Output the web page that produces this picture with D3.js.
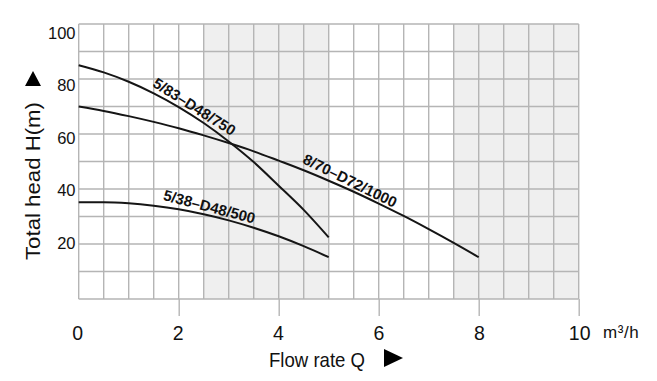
<!DOCTYPE html>
<html><head><meta charset="utf-8">
<script src="https://cdn.jsdelivr.net/npm/d3@7"></script>
<style>body{margin:0;background:#fff}svg{display:block}</style>
</head><body>
<svg id="chart" width="657" height="381"></svg>
<script>
// ---- data ----
const seriesNames = ["5/83–D48/750", "8/70–D72/1000", "5/38–D48/500"];
const flowA = [0,0.5,1,1.5,2,2.5,3,3.5,4,4.5,5];
const headA = [85,82.4,79.0,74.8,69.8,64.0,57.3,49.8,41.2,32.4,22.4];
const flowB = [0,0.5,1,1.5,2,2.5,3,3.5,4,4.5,5,5.5,6,6.5,7,7.5,8];
const headB = [70,68.4,66.5,64.4,62.1,59.5,56.7,53.7,50.3,46.8,43.0,39.0,34.7,30.2,25.4,20.4,15.2];
const flowC = [0,0.5,1,1.5,2,2.5,3,3.5,4,4.5,5];
const headC = [35.2,35.2,34.8,33.9,32.6,30.8,28.6,25.9,22.8,19.2,15.2];
const xTicks = [0,2,4,6,8,10];
const xTickMarks = [2,4,6,8,10];
const yTicks = [20,40,60,80,100];
const shadedBands = [[2.5,5],[7.5,10]];
const labelFlow = [2.22, 5.35, 2.57];

// ---- drawing ----
const svg = d3.select("#chart");
const font = "'Liberation Sans', Arial, Helvetica, sans-serif";
const x = d3.scaleLinear().domain([0,10]).range([78.7,578.7]);
const y = d3.scaleLinear().domain([0,100]).range([299,24]);
const xLab = d3.scaleLinear().domain([0,10]).range([77.2,579.2]);
const yLab = d3.scaleLinear().domain([0,100]).range([295.5,33]);
const gridColor = "#b5b5b5";

// shaded bands
svg.append("g").selectAll("rect").data(shadedBands).join("rect")
  .attr("x", d => x(d[0])).attr("y", y(100))
  .attr("width", d => x(d[1]) - x(d[0])).attr("height", y(0) - y(100))
  .attr("fill", "#efefef");

// grid
const grid = svg.append("g").attr("stroke", gridColor).attr("stroke-width", 1.4);
grid.selectAll(".v").data(d3.range(0, 10.01, 0.5)).join("line")
  .attr("x1", d => x(d)).attr("x2", d => x(d)).attr("y1", y(100)).attr("y2", y(0));
grid.selectAll(".h").data(d3.range(0, 100.1, 10)).join("line")
  .attr("x1", x(0)).attr("x2", x(10)).attr("y1", d => y(d)).attr("y2", d => y(d));

// tick marks below axis
const xAxisTicks = svg.append("g").attr("transform", `translate(0,${y(0)})`)
  .call(d3.axisBottom(x).tickValues(xTickMarks).tickSize(17).tickFormat(""));
xAxisTicks.select(".domain").remove();
xAxisTicks.selectAll("line").attr("stroke", gridColor).attr("stroke-width", 1.4);

// x tick labels
const xl = svg.append("g").attr("transform", "translate(0,326.5)")
  .call(d3.axisBottom(xLab).tickValues(xTicks).tickSize(0).tickPadding(0).tickFormat(d3.format("d")));
xl.select(".domain").remove();
xl.selectAll("text").attr("font-family", font).attr("font-size", 19.5).attr("fill", "#111");

// y tick labels
const yl = svg.append("g").attr("transform", "translate(75.5,0)")
  .call(d3.axisLeft(yLab).tickValues(yTicks).tickSize(0).tickPadding(0).tickFormat(d3.format("d")));
yl.select(".domain").remove();
yl.selectAll("text").attr("font-family", font).attr("font-size", 16.5).attr("fill", "#111");

// curves
const series = [
  {name: seriesNames[0], q: flowA, h: headA},
  {name: seriesNames[1], q: flowB, h: headB},
  {name: seriesNames[2], q: flowC, h: headC}
];
const line = d3.line().x(d => x(d[0])).y(d => y(d[1])).curve(d3.curveMonotoneX);
svg.append("g").selectAll("path").data(series).join("path")
  .attr("d", s => line(s.q.map((q,i) => [q, s.h[i]])))
  .attr("fill", "none").attr("stroke", "#151515").attr("stroke-width", 2);

// curve labels
function headAt(s, q) {
  const i = Math.min(d3.bisectRight(s.q, q), s.q.length - 1);
  const q0 = s.q[i-1], q1 = s.q[i];
  const t = (q - q0) / (q1 - q0);
  return s.h[i-1] + t * (s.h[i] - s.h[i-1]);
}
const gaps = [3.5, 3.5, 3.5];
const angleAdd = [0, 2, 2];
series.forEach((s, k) => {
  const q = labelFlow[k];
  const p1 = [x(q - 0.3), y(headAt(s, q - 0.3))];
  const p2 = [x(q + 0.3), y(headAt(s, q + 0.3))];
  const ang = Math.atan2(p2[1] - p1[1], p2[0] - p1[0]) * 180 / Math.PI + angleAdd[k];
  svg.append("text")
    .attr("transform", `translate(${x(q)},${y(headAt(s, q))}) rotate(${ang})`)
    .attr("y", -gaps[k])
    .attr("text-anchor", "middle")
    .attr("font-family", font).attr("font-weight", "bold").attr("font-size", 15)
    .attr("fill", "#111")
    .text(s.name);
});

// axis titles
svg.append("text").attr("x", 269).attr("y", 366.5)
  .attr("font-family", font).attr("font-size", 21).attr("fill", "#111")
  .attr("textLength", 96).attr("lengthAdjust", "spacingAndGlyphs")
  .text("Flow rate Q");
svg.append("path").attr("d", "M384,349 L403,358 L384,367 Z").attr("fill", "#000");

svg.append("text").attr("transform", "translate(40,260) rotate(-90)")
  .attr("font-family", font).attr("font-size", 21).attr("fill", "#111")
  .attr("textLength", 158).attr("lengthAdjust", "spacingAndGlyphs")
  .text("Total head H(m)");
svg.append("path").attr("d", "M25,86 L33,71 L41,86 Z").attr("fill", "#000");

svg.append("text").attr("x", 603).attr("y", 337.5)
  .attr("font-family", font).attr("font-size", 17).attr("fill", "#111")
  .attr("letter-spacing", 0.6)
  .text("m³/h");
</script>
</body></html>
